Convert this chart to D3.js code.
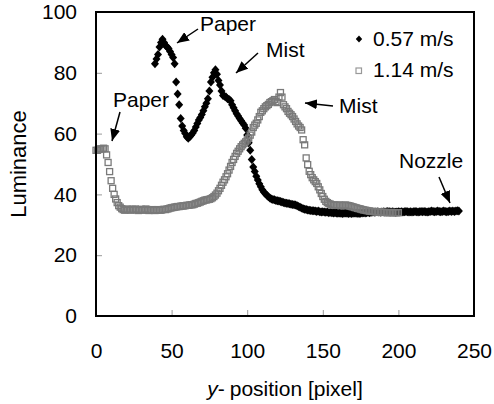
<!DOCTYPE html>
<html>
<head>
<meta charset="utf-8">
<script src="https://cdn.jsdelivr.net/npm/d3@7"></script>
<style>
  body { margin: 0; background: #fff; }
  text { font-family: "Liberation Sans", Arial, sans-serif; fill: #000; }
  .tick line { stroke: #999; }
</style>
</head>
<body>
<div id="chart"></div>
<script>

// y-position [pixel] of the first point of each series, one value per pixel after that
var slowStart = 39;
var slowValues = [
  83, 84.5, 86, 88.5, 90, 91, 90, 89, 88.5, 88, 87, 86, 85, 83, 77, 73, 69.5, 65, 62.5, 61,
  60, 59, 58.5, 59, 59.5, 60.2, 61, 62.2, 63.3, 64.5, 65.3, 66.3, 67.5, 68.8, 70, 71.5, 74, 77, 78.5, 80,
  81, 79.5, 77.5, 76, 74, 72.5, 72.3, 72, 71.5, 71.2, 70.8, 69.5, 68.5, 67.5, 66.5, 65.8, 65, 64.2, 63.5, 62.8,
  61.8, 59.5, 57, 54.5, 51.5, 49, 47.5, 46, 44.7, 43.5, 42.5, 41.5, 40.8, 40.2, 39.7, 39.2, 38.8, 38.5, 38.3, 38.2,
  38, 37.9, 37.8, 37.7, 37.5, 37.3, 37.2, 37.1, 37, 36.9, 36.8, 36.7, 36.6, 36.5, 36.3, 36, 35.8, 35.5, 35.3, 35.1,
  35, 34.9, 34.8, 34.7, 34.6, 34.6, 34.5, 34.4, 34.5, 34.3, 34.2, 34.3, 34.2, 34.1, 34.2, 34, 34.1, 34, 33.9, 34,
  33.9, 33.8, 33.9, 33.8, 33.7, 33.8, 33.9, 33.8, 33.7, 33.8, 33.7, 33.8, 33.9, 33.8, 33.8, 33.7, 33.8, 33.9, 34, 33.9,
  34, 34.1, 34, 34.1, 34.2, 34.1, 34.2, 34.3, 34.2, 34.1, 34.2, 34.3, 34.2, 34.3, 34.4, 34.3, 34.2, 34.3, 34.2, 34.1,
  34.2, 34.3, 34.2, 34.3, 34.2, 34.3, 34.4, 34.3, 34.2, 34.3, 34.2, 34.3, 34.4, 34.3, 34.2, 34.3, 34.4, 34.3, 34.4, 34.3,
  34.2, 34.3, 34.4, 34.5, 34.4, 34.3, 34.4, 34.5, 34.4, 34.3, 34.4, 34.5, 34.4, 34.3, 34.4, 34.5, 34.4, 34.5, 34.4, 34.5,
  34.6, 34.5
];

var fastStart = 0;
var fastValues = [
  54.5, 54.5, 54.8, 55, 55, 55.2, 55, 53, 50.5, 47.5, 44.5, 42, 40, 38.5, 37.3, 36.3, 35.8, 35.3, 35, 34.8,
  35, 35.2, 35, 34.8, 35.1, 35, 35.2, 34.9, 34.7, 35, 35.1, 34.8, 34.9, 35.2, 35, 34.7, 34.8, 35, 34.9, 34.7,
  34.8, 35, 34.9, 34.8, 35, 35.1, 35, 35.2, 35.3, 35.5, 35.6, 35.7, 35.8, 35.9, 36, 36, 36.1, 36.2, 36.2, 36.3,
  36.4, 36.4, 36.5, 36.6, 36.6, 36.8, 37, 37.1, 37.3, 37.5, 37.7, 37.9, 38.1, 38.2, 38.3, 38.4, 38.6, 38.9, 39.3, 39.8,
  40.4, 41.2, 42, 43, 44, 44.8, 45.8, 46.8, 48, 49.2, 50.5, 51.5, 52.5, 53.5, 54.2, 55, 55.7, 56.3, 56.8, 57.3,
  57.9, 58.5, 59.5, 60.5, 62, 62.8, 63.4, 64.5, 65.6, 67, 67.5, 68.2, 68.8, 69.2, 69.6, 70.2, 70.5, 70.8, 71.2, 70.5,
  70.2, 72, 73.5, 72, 69.5, 68.8, 68.2, 67.3, 66.7, 66.2, 65.6, 64.8, 64, 63.2, 62.5, 62, 61.2, 58, 56.3, 52,
  49.8, 47.6, 46.5, 45.5, 44.8, 44.2, 43.6, 42.5, 41.5, 40.3, 39.3, 38.4, 37.7, 37.3, 37, 36.8, 36.6, 36.5, 36.5, 36.4,
  36.4, 36.5, 36.4, 36.3, 36.4, 36.5, 36.4, 36.3, 36.2, 36, 35.9, 35.7, 35.6, 35.4, 35.3, 35.2, 35, 34.9, 34.8, 34.7,
  34.6, 34.5, 34.4, 34.4, 34.3, 34.3, 34.2, 34.2, 34.2, 34.1, 34.1, 34.1, 34, 34, 34, 34.1, 34, 34, 34, 34,
  34
];

var seriesNames = ["0.57 m/s", "1.14 m/s"];
var xTicks = [0, 50, 100, 150, 200, 250];
var yTicks = [0, 20, 40, 60, 80, 100];

// annotation labels: text, label anchor, arrow tail, arrow tip
var notes = [
  {text: "Paper", x: 200, y: 31, from: [198, 29], to: [177, 43]},
  {text: "Mist", x: 266, y: 57, from: [258, 53], to: [236, 73]},
  {text: "Paper", x: 113, y: 107, from: [120, 112], to: [112, 141]},
  {text: "Mist", x: 339, y: 113, from: [333, 106], to: [305, 103]},
  {text: "Nozzle", x: 399, y: 168, from: [439, 177], to: [450, 203]}
];

var width = 494, height = 404;
var plot = {left: 96, right: 474, top: 12, bottom: 316};

var svg = d3.select("#chart").append("svg")
  .attr("width", width)
  .attr("height", height);

var x = d3.scaleLinear().domain([0, 250]).range([plot.left, plot.right]),
    y = d3.scaleLinear().domain([0, 100]).range([plot.bottom, plot.top]);

var slowData = slowValues.map((v, i) => ({x: slowStart + i, y: v})),
    fastData = fastValues.map((v, i) => ({x: fastStart + i, y: v}));

svg.append("defs").append("marker")
  .attr("id", "head")
  .attr("viewBox", "0 0 12 10")
  .attr("refX", 12).attr("refY", 5)
  .attr("markerWidth", 12).attr("markerHeight", 10)
  .attr("markerUnits", "userSpaceOnUse")
  .attr("orient", "auto")
  .append("path")
  .attr("d", "M0,0L12,5L0,10Z")
  .attr("fill", "#000");

var xAxis = d3.axisBottom(x).tickValues(xTicks).tickSize(-6).tickPadding(27);
var yAxis = d3.axisLeft(y).tickValues(yTicks).tickSize(-6).tickPadding(19);

svg.append("g")
  .attr("transform", `translate(0,${plot.bottom})`)
  .call(xAxis)
  .call(g => g.select(".domain").remove())
  .selectAll("text").attr("font-size", 21).attr("fill", "#000");

svg.append("g")
  .attr("transform", `translate(${plot.left},0)`)
  .call(yAxis)
  .call(g => g.select(".domain").remove())
  .selectAll("text").attr("font-size", 21).attr("fill", "#000");

var diamond = "M0,-4.5L4,0L0,4.5L-4,0Z";

svg.append("g").selectAll("path")
  .data(slowData)
  .enter().append("path")
  .attr("d", diamond)
  .attr("transform", d => `translate(${x(d.x)},${y(d.y)})`)
  .attr("fill", "#000");

svg.append("g").selectAll("rect")
  .data(fastData)
  .enter().append("rect")
  .attr("x", d => x(d.x) - 3)
  .attr("y", d => y(d.y) - 3)
  .attr("width", 6).attr("height", 6)
  .attr("fill", "none")
  .attr("stroke", "#7a7a7a")
  .attr("stroke-width", 1.3);

// frame
svg.append("rect")
  .attr("x", plot.left).attr("y", plot.top)
  .attr("width", plot.right - plot.left)
  .attr("height", plot.bottom - plot.top)
  .attr("fill", "none")
  .attr("stroke", "#000")
  .attr("stroke-width", 2);

// legend
var legend = svg.append("g");
legend.append("path")
  .attr("d", "M0,-3.5L3.2,0L0,3.5L-3.2,0Z")
  .attr("transform", "translate(359,39)")
  .attr("fill", "#000");
legend.append("rect")
  .attr("x", 356).attr("y", 68)
  .attr("width", 5.5).attr("height", 5.5)
  .attr("fill", "none")
  .attr("stroke", "#999")
  .attr("stroke-width", 1.2);
legend.selectAll("text")
  .data(seriesNames)
  .enter().append("text")
  .attr("x", 373)
  .attr("y", (d, i) => 46 + i * 31)
  .attr("font-size", 21)
  .text(d => d);

// annotations
var noteG = svg.append("g").selectAll("g")
  .data(notes)
  .enter().append("g");

noteG.append("text")
  .attr("x", d => d.x)
  .attr("y", d => d.y)
  .attr("font-size", 21)
  .text(d => d.text);

noteG.append("line")
  .attr("x1", d => d.from[0]).attr("y1", d => d.from[1])
  .attr("x2", d => d.to[0]).attr("y2", d => d.to[1])
  .attr("stroke", "#000")
  .attr("stroke-width", 1.5)
  .attr("marker-end", "url(#head)");

// axis titles
var xTitle = svg.append("text")
  .attr("x", (plot.left + plot.right) / 2)
  .attr("y", 396)
  .attr("text-anchor", "middle")
  .attr("font-size", 21);
xTitle.append("tspan").attr("font-style", "italic").text("y");
xTitle.append("tspan").text("-");
xTitle.append("tspan").attr("dx", 5).text("position [pixel]");

svg.append("text")
  .attr("transform", `translate(26,${(plot.top + plot.bottom) / 2}) rotate(-90)`)
  .attr("text-anchor", "middle")
  .attr("font-size", 22)
  .text("Luminance");

</script>
</body>
</html>
